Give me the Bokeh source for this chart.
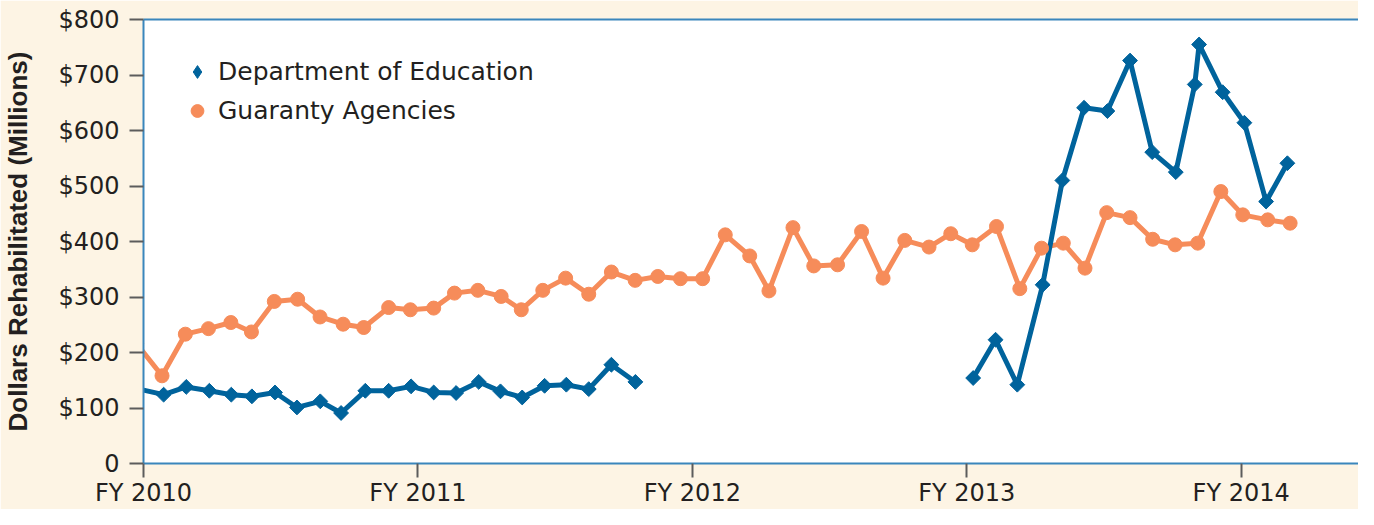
import math
import numpy as np
from bokeh.plotting import figure
from bokeh.models import Range1d, FixedTicker, Legend, LegendItem, ColumnDataSource, LinearAxis
from bokeh.embed import file_html
from bokeh.resources import INLINE

# ---- data (x = months since the start of FY 2010, values in $ millions) ----
ga_month = [-0.3, 0.81, 1.83, 2.84, 3.82, 4.72, 5.72, 6.74, 7.72, 8.73, 9.63, 10.72, 11.67,
            12.69, 13.60, 14.62, 15.64, 16.52, 17.46, 18.46, 19.47, 20.46, 21.50, 22.49,
            23.48, 24.45, 25.44, 26.51, 27.35, 28.40, 29.31, 30.35, 31.40, 32.34, 33.29,
            34.35, 35.30, 36.24, 37.30, 38.32, 39.27, 40.22, 41.17, 42.12, 43.14, 44.13,
            45.11, 46.10, 47.11, 48.07, 49.16, 50.14]
ga_value = [216, 158, 233, 243, 254, 237, 292, 296, 264, 251, 245, 281, 277,
            280, 307, 312, 301, 277, 312, 334, 305, 345, 330, 337,
            333, 333, 412, 374, 311, 425, 356, 358, 418, 334, 402,
            390, 414, 394, 427, 315, 388, 397, 352, 452, 443, 404,
            394, 397, 490, 448, 439, 433]

ed_month = [-0.3, 0.88, 1.87, 2.88, 3.84, 4.74, 5.75, 6.71, 7.73, 8.64, 9.70, 10.72, 11.70,
            12.69, 13.67, 14.66, 15.61, 16.56, 17.54, 18.49, 19.47, 20.46, 21.51,
            float("nan"),
            36.28, 37.26, 38.21, 39.32, 40.18, 41.13, 42.15, 43.14, 44.11, 45.14, 45.97,
            46.16, 47.19, 48.14, 49.09, 50.02]
ed_value = [135, 124, 138, 131, 124, 121, 128, 101, 112, 91, 131, 131, 139,
            128, 127, 147, 130, 119, 140, 142, 134, 178, 147,
            float("nan"),
            154, 223, 142, 322, 510, 641, 635, 726, 561, 525, 683,
            755, 669, 614, 472, 541]

series_names = ["Department of Education", "Guaranty Agencies"]
year_ticks = [0, 12, 24, 36, 48]
year_labels = ["FY 2010", "FY 2011", "FY 2012", "FY 2013", "FY 2014"]
dollar_ticks = [0, 100, 200, 300, 400, 500, 600, 700, 800]
dollar_labels = ["0", "$100", "$200", "$300", "$400", "$500", "$600", "$700", "$800"]

# ---- styling ----
CREAM = "#fdf4e4"
BLUE = "#00639c"
ORANGE = "#f68c5a"
FRAME = "#3a86bc"
TEXT = "#231f20"
TICK = "#5c5c5c"
FONT = "DejaVu Sans"

ed_src = ColumnDataSource(data=dict(m=np.array(ed_month, dtype=float), v=np.array(ed_value, dtype=float)))
ga_src = ColumnDataSource(data=dict(m=np.array(ga_month, dtype=float), v=np.array(ga_value, dtype=float)))

p = figure(width=1358, height=509,
           x_range=Range1d(0, 53.13), y_range=Range1d(0, 800),
           output_backend="svg", toolbar_location=None,
           min_border_left=136, min_border_right=0, min_border_top=19, min_border_bottom=40,
           background_fill_color="white", border_fill_color=CREAM,
           outline_line_color=None)

p.xgrid.visible = False
p.ygrid.visible = False

# lines
p.line("m", "v", source=ga_src, line_color=ORANGE, line_width=5, line_join="round")
p.line("m", "v", source=ed_src, line_color=BLUE, line_width=5, line_join="round")

# markers
ga_marks = p.scatter("m", "v", source=ga_src, marker="circle", size=14,
                     fill_color=ORANGE, line_color=ORANGE)
p.scatter("m", "v", source=ed_src, marker="square", angle=math.pi / 4, size=10.5,
          fill_color=BLUE, line_color=BLUE)
# diamond used for the legend entry (drawn at size 0 on the plot itself)
ed_legend = p.scatter("m", "v", source=ed_src, marker="diamond", size=0,
                      fill_color=BLUE, line_color=BLUE)

legend = Legend(items=[LegendItem(label=series_names[0], renderers=[ed_legend]),
                       LegendItem(label=series_names[1], renderers=[ga_marks])],
                location=(38, 334), margin=0, padding=0, spacing=2,
                glyph_width=32, glyph_height=37, label_standoff=5,
                label_text_font=FONT, label_text_font_size="25px", label_text_color=TEXT,
                background_fill_alpha=0, border_line_alpha=0)
p.add_layout(legend, "center")

# axes
xa = p.below[0]
ya = p.left[0]
xa.ticker = FixedTicker(ticks=year_ticks)
xa.major_label_overrides = dict(zip(year_ticks, year_labels))
ya.ticker = FixedTicker(ticks=dollar_ticks)
ya.major_label_overrides = dict(zip(dollar_ticks, dollar_labels))
ya.axis_label = "Dollars Rehabilitated (Millions)"
ya.axis_label_text_font = "Liberation Sans"
ya.axis_label_text_font_style = "bold"
ya.axis_label_text_font_size = "26px"
ya.axis_label_text_color = TEXT
ya.axis_label_standoff = 22

for ax in (xa, ya):
    ax.axis_line_color = FRAME
    ax.axis_line_width = 2
    ax.major_tick_line_color = TICK
    ax.major_tick_line_width = 2
    ax.major_tick_in = 0
    ax.minor_tick_line_color = None
    ax.major_label_text_font = FONT
    ax.major_label_text_font_size = "24px"
    ax.major_label_text_color = TEXT
xa.major_tick_out = 14
xa.major_label_standoff = 1
ya.major_tick_out = 14
ya.major_label_standoff = 10

# top border line of the plot area (an axis with no ticks or labels)
top = LinearAxis(ticker=FixedTicker(ticks=[]), axis_line_color=FRAME, axis_line_width=2,
                 major_tick_line_color=None, minor_tick_line_color=None,
                 major_label_text_font_size="0px", major_tick_out=0, major_tick_in=0)
p.add_layout(top, "above")

open("out.html", "w").write(file_html(p, INLINE))
